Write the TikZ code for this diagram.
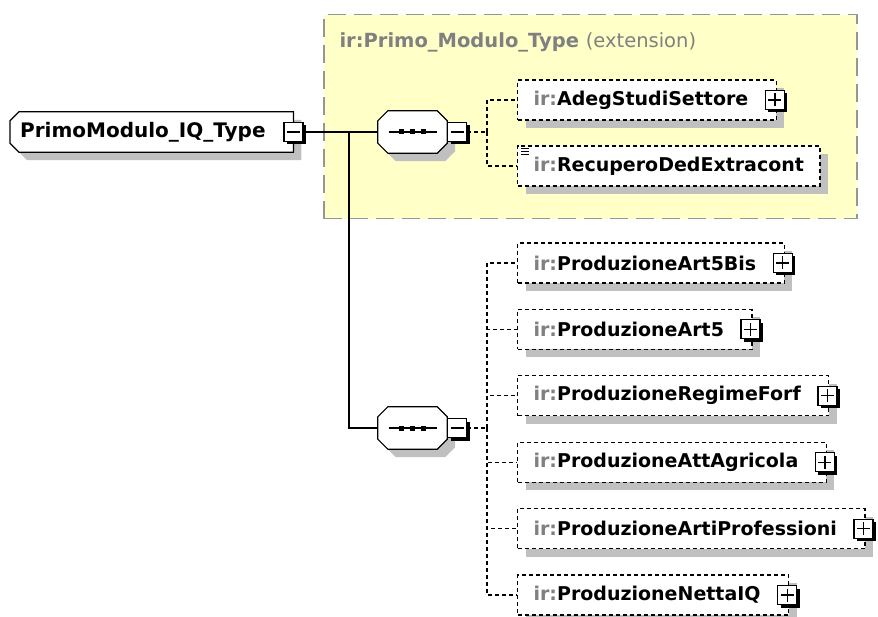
\documentclass[tikz,border=0pt]{standalone}
\usepackage{fontspec}
\setmainfont{DejaVu Sans}
\usetikzlibrary{shadows, calc}

\definecolor{extfill}{RGB}{255,255,200}
\definecolor{extline}{RGB}{150,150,150}
\definecolor{irgray}{RGB}{128,128,128}
\definecolor{shade}{RGB}{192,192,192}

\newcommand{\ir}[1]{\textcolor{irgray}{ir:}#1}
\newcommand{\irp}[1]{\ir{#1}\kern12pt}
% outline with all four corners cut
\newcommand{\octo}[2]{([xshift=#2]#1.north west) -- ([xshift=-#2]#1.north east)
  -- ([yshift=-#2]#1.north east) -- ([yshift=#2]#1.south east)
  -- ([xshift=-#2]#1.south east) -- ([xshift=#2]#1.south west)
  -- ([yshift=#2]#1.south west) -- ([yshift=-#2]#1.north west) -- cycle}
% outline with the two left corners cut
\newcommand{\halfocto}[2]{([xshift=#2]#1.north west) -- (#1.north east)
  -- (#1.south east) -- ([xshift=#2]#1.south west)
  -- ([yshift=#2]#1.south west) -- ([yshift=-#2]#1.north west) -- cycle}

\pgfdeclarelayer{ext}
\pgfdeclarelayer{shapes}
\pgfsetlayers{ext,shapes,main}

\begin{document}
\begin{tikzpicture}[
  x=1pt, y=-1pt,
  font=\fontsize{19.5}{23}\selectfont\bfseries,
  sh/.style={general shadow={fill=shade, shadow xshift=8pt, shadow yshift=-8pt}},
  shoff/.style={fill=shade, transform canvas={shift={(8pt,-8pt)}}},
  outline/.style={draw, fill=white, line width=1.2pt},
  extbox/.style={draw=extline, fill=extfill, line width=1.5pt,
                 dash pattern=on 18pt off 8pt, inner sep=0pt},
  typebox/.style={minimum width=283pt, minimum height=40pt,
                  font=\fontsize{20}{24}\selectfont\bfseries,
                  text width=263pt, align=left, inner xsep=0pt, anchor=west},
  seqbox/.style={minimum width=69pt, minimum height=42pt, inner sep=0pt},
  elem/.style={draw, dash pattern=on 4pt off 3pt, fill=white, sh,
               font=\fontsize{19}{23}\selectfont\bfseries,
               line width=1.2pt, minimum height=40pt, inner xsep=16pt,
               anchor=west},
  sign/.style={draw, fill=white, line width=1.2pt, minimum size=19pt,
               inner sep=0pt,
               general shadow={fill=black, shadow xshift=3pt, shadow yshift=-3pt}},
  minus/.style={sign, path picture={
      \draw[line width=1.2pt] ([xshift=3pt]path picture bounding box.west)
        -- ([xshift=-3pt]path picture bounding box.east);}},
  plus/.style={sign, path picture={
      \draw[line width=1.2pt] ([xshift=3pt]path picture bounding box.west)
        -- ([xshift=-3pt]path picture bounding box.east);
      \draw[line width=1.2pt] ([yshift=-3pt]path picture bounding box.north)
        -- ([yshift=3pt]path picture bounding box.south);}},
  link/.style={line width=1.2pt},
  dlink/.style={line width=1.2pt, dash pattern=on 4pt off 3pt},
]
\useasboundingbox (0,0) rectangle (878,617);

% extension area
\begin{pgfonlayer}{ext}
\node[extbox, minimum width=533pt, minimum height=204pt, anchor=north west]
  (ext) at (323,14) {};
\end{pgfonlayer}
\node[anchor=west, text=irgray] (exttitle) at (336,42)
  {ir:Primo\_Modulo\_Type \mdseries(extension)};

% complex type
\node[typebox] (main) at (10,132) {PrimoModulo\_IQ\_Type};
\node[minus] (mmain) at (main.east) {};

% sequences
\node[seqbox] (seq1) at (412.5,132) {};
\node[minus, anchor=west] (mseq1) at (seq1.east) {};
\node[seqbox] (seq2) at (412.5,428) {};
\node[minus, anchor=west] (mseq2) at (seq2.east) {};

\begin{pgfonlayer}{shapes}
\fill[shoff] \halfocto{main}{9pt};
\draw[outline] \halfocto{main}{9pt};
\foreach \s in {seq1,seq2} {
  \fill[shoff] \octo{\s}{10pt};
  \draw[outline] \octo{\s}{10pt};
}
\end{pgfonlayer}
\foreach \s in {seq1,seq2} {
  \draw[line width=1.2pt] ([xshift=-24pt]\s.center) -- ([xshift=24pt]\s.center);
  \foreach \dx in {-11,0,11}
    \fill ([xshift=\dx pt]\s.center) +(-2.5pt,-2.5pt) rectangle +(2.5pt,2.5pt);
}

\coordinate (fork) at (349,132);
\coordinate (j1) at (487,132);
\coordinate (j2) at (487,428);

\draw[link] (mmain.east) -- (seq1.west);
\draw[link] (fork) |- (seq2.west);
\draw[dlink] (mseq1.east) -- (j1);
\draw[dlink] (mseq2.east) -- (j2);

% first sequence
\node[elem] (adeg) at (517,100) {\irp{AdegStudiSettore}};
\node[plus] at ([xshift=-2pt]adeg.east) {};
\node[elem] (recup) at (517,166) {\ir{RecuperoDedExtracont}};
\foreach \dy in {3,6,9}
  \draw[line width=0.8pt] ([shift={(4pt,-\dy pt)}]recup.north west) -- ++(8pt,0);
\draw[dlink] (j1) |- (adeg.west);
\draw[dlink] (j1) |- (recup.west);

% second sequence
\foreach \name/\txt [count=\i from 0] in {art5bis/ProduzioneArt5Bis,
    art5/ProduzioneArt5, forf/ProduzioneRegimeForf,
    agri/ProduzioneAttAgricola, prof/ProduzioneArtiProfessioni,
    netta/ProduzioneNettaIQ} {
  \node[elem] (\name) at (517,263+66.4*\i) {\irp{\txt}};
  \node[plus] at ([xshift=-2pt]\name.east) {};
  \draw[dlink] (j2) |- (\name.west);
}
\end{tikzpicture}
\end{document}
